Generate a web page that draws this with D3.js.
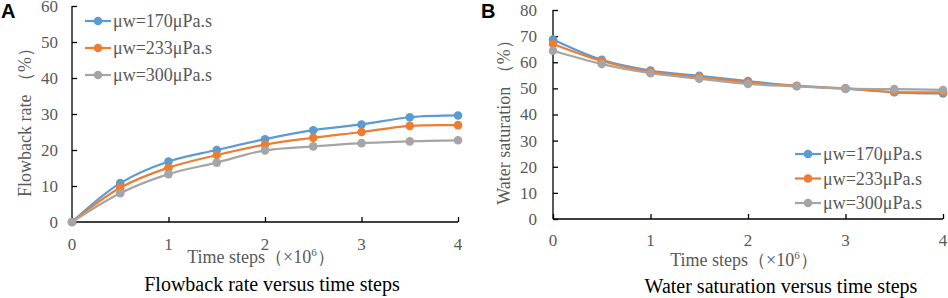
<!DOCTYPE html>
<html>
<head>
<meta charset="utf-8">
<script src="https://cdn.jsdelivr.net/npm/d3@7"></script>
<style>
  body { margin: 0; background: #fff; }
  svg { display: block; }
  text { font-family: "Liberation Serif", "Times New Roman", serif; }
</style>
</head>
<body>
<svg id="chart" width="948" height="298"></svg>
<script>
// Time steps (x10^6)
const timeSteps = [0, 0.5, 1, 1.5, 2, 2.5, 3, 3.5, 4];
const seriesNames = ['μw=170μPa.s', 'μw=233μPa.s', 'μw=300μPa.s'];
const seriesColors = ['#5B9BD5', '#ED7D31', '#A5A5A5'];

// Panel A: flowback rate (%)
const flowback170 = [0, 10.8, 16.8, 20.0, 23.0, 25.5, 27.1, 29.1, 29.6];
const flowback233 = [0, 9.5, 15.1, 18.6, 21.5, 23.4, 25.0, 26.7, 26.9];
const flowback300 = [0, 8.0, 13.3, 16.5, 19.9, 21.0, 21.9, 22.4, 22.7];

// Panel B: water saturation (%)
const water170 = [68.7, 60.9, 56.8, 54.8, 52.8, 50.9, 49.9, 48.5, 48.1];
const water233 = [67.0, 60.5, 56.3, 54.4, 52.3, 51.0, 50.0, 48.6, 48.5];
const water300 = [64.4, 59.3, 55.8, 53.7, 51.7, 50.8, 49.9, 49.7, 49.4];

const xTicks = [0, 1, 2, 3, 4];

const svg = d3.select('#chart');

function drawPanel(opts) {
  const g = svg.append('g');

  const x = d3.scaleLinear().domain([0, 4]).range([opts.left, opts.right]);
  const y = d3.scaleLinear().domain([0, opts.yMax]).range([opts.bottom, opts.top]);

  // Axes (ticks point inward)
  const yAxis = d3.axisRight(y).tickValues(d3.range(0, opts.yMax + 1, 10))
    .tickSize(5).tickFormat('');
  g.append('g').attr('transform', `translate(${opts.left},0)`).call(yAxis)
    .call(a => a.select('.domain').attr('d', `M0,${opts.bottom}V${opts.top}`));

  const xAxis = d3.axisTop(x).tickValues(xTicks).tickSize(5).tickFormat('');
  g.append('g').attr('transform', `translate(0,${opts.bottom})`).call(xAxis)
    .call(a => a.select('.domain').attr('d', `M${opts.left},0H${opts.right}`));

  g.selectAll('.domain, .tick line').attr('stroke', '#000').attr('stroke-width', 1.3);

  // Tick labels
  g.append('g').selectAll('text')
    .data(d3.range(0, opts.yMax + 1, 10))
    .join('text')
    .attr('x', opts.left - opts.yLabelGap)
    .attr('y', d => y(d))
    .attr('dy', '0.35em')
    .attr('text-anchor', 'end')
    .attr('fill', '#595959')
    .style('font-size', '17px')
    .text(d => d);

  g.append('g').selectAll('text')
    .data(xTicks)
    .join('text')
    .attr('x', d => x(d))
    .attr('y', opts.xLabelY)
    .attr('text-anchor', 'middle')
    .attr('fill', '#595959')
    .style('font-size', '17px')
    .text(d => d);

  // Axis titles
  const xt = g.append('text')
    .attr('x', opts.xTitleX)
    .attr('y', opts.xTitleY)
    .attr('text-anchor', 'middle')
    .attr('fill', '#595959')
    .style('font-size', '18px');
  xt.append('tspan').text('Time steps（×10');
  xt.append('tspan').attr('dy', -7).style('font-size', '11px').text('6');
  xt.append('tspan').attr('dy', 7).text('）');

  g.append('text')
    .attr('transform', `translate(${opts.yTitleX},${opts.yTitleY}) rotate(-90)`)
    .attr('text-anchor', 'middle')
    .attr('fill', '#595959')
    .style('font-size', '18px')
    .text(opts.yTitle);

  // Caption
  g.append('text')
    .attr('x', opts.captionX)
    .attr('y', opts.captionY)
    .attr('text-anchor', 'middle')
    .attr('fill', '#000')
    .style('font-size', '20px')
    .text(opts.caption);

  // Panel letter
  g.append('text')
    .attr('x', opts.letterX)
    .attr('y', 18)
    .style('font-family', 'Liberation Sans, Arial, sans-serif')
    .style('font-weight', 'bold')
    .style('font-size', '20px')
    .text(opts.letter);

  // Lines
  const line = d3.line()
    .x((d, i) => x(timeSteps[i]))
    .y(d => y(d))
    .curve(d3.curveCatmullRom.alpha(0.5));

  opts.series.forEach((vals, k) => {
    g.append('path')
      .datum(vals)
      .attr('fill', 'none')
      .attr('stroke', seriesColors[k])
      .attr('stroke-width', 2.2)
      .attr('d', line);
  });
  opts.series.forEach((vals, k) => {
    g.append('g').selectAll('circle')
      .data(vals)
      .join('circle')
      .attr('cx', (d, i) => x(timeSteps[i]))
      .attr('cy', d => y(d))
      .attr('r', 4.3)
      .attr('fill', seriesColors[k]);
  });

  // Legend
  const legend = g.append('g');
  seriesNames.forEach((name, k) => {
    const ly = opts.legendY + k * opts.legendStep;
    legend.append('line')
      .attr('x1', opts.legendX).attr('x2', opts.legendX + 26)
      .attr('y1', ly).attr('y2', ly)
      .attr('stroke', seriesColors[k]).attr('stroke-width', 2.2);
    legend.append('circle')
      .attr('cx', opts.legendX + 13).attr('cy', ly).attr('r', 4.3)
      .attr('fill', seriesColors[k]);
    legend.append('text')
      .attr('x', opts.legendX + 28).attr('y', ly)
      .attr('dy', '0.35em')
      .attr('fill', '#595959')
      .style('font-size', '18px')
      .text(name);
  });
}

drawPanel({
  left: 72, right: 458, top: 6, bottom: 222, yMax: 60,
  yLabelGap: 14, xLabelY: 250,
  xTitleX: 261, xTitleY: 263,
  yTitle: 'Flowback rate （%）', yTitleX: 31, yTitleY: 118,
  caption: 'Flowback rate versus time steps', captionX: 272, captionY: 291,
  letter: 'A', letterX: 1,
  series: [flowback170, flowback233, flowback300],
  legendX: 85, legendY: 21, legendStep: 27
});

drawPanel({
  left: 553, right: 943, top: 10, bottom: 219, yMax: 80,
  yLabelGap: 16, xLabelY: 246,
  xTitleX: 744, xTitleY: 266,
  yTitle: 'Water saturation （%）', yTitleX: 510, yTitleY: 118,
  caption: 'Water saturation versus time steps', captionX: 781, captionY: 293,
  letter: 'B', letterX: 481,
  series: [water170, water233, water300],
  legendX: 795, legendY: 154, legendStep: 24.5
});
</script>
</body>
</html>
